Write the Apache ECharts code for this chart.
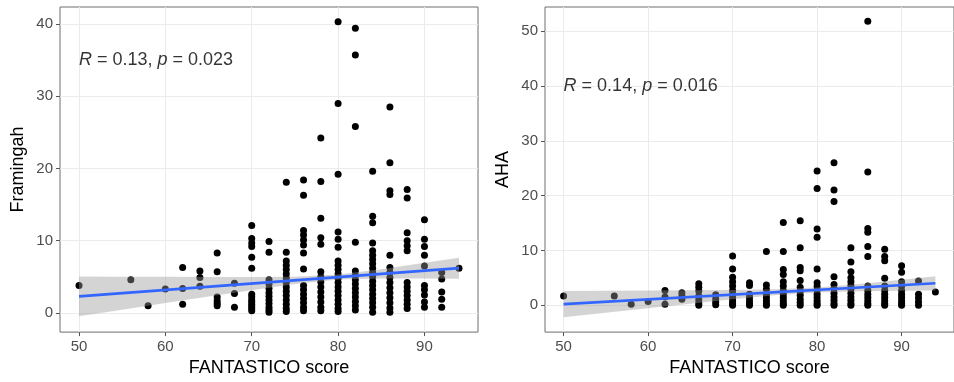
<!DOCTYPE html>
<html>
<head>
<meta charset="utf-8">
<script src="https://cdn.jsdelivr.net/npm/echarts@6/dist/echarts.min.js"></script>
<style>
  html, body { margin: 0; padding: 0; background: #fff; }
  #chart { width: 954px; height: 382px; }
</style>
</head>
<body>
<div id="chart"></div>
<script>
// FANTASTICO score columns, shared by both panels
const scoreCols = [50, 56, 58, 60, 62, 64, 66, 68, 70, 72, 74, 76, 78, 80, 82, 84, 86, 88, 90, 92, 94]

// Framingham risk per score column
const framVals = [
  [3.8],
  [4.6],
  [1.0],
  [3.3],
  [6.3, 3.4, 1.2],
  [5.8, 4.9, 3.7],
  [8.3, 5.7, 2.2, 1.7, 1.3, 1.0],
  [4.1, 2.7, 0.8],
  [12.1, 10.3, 9.7, 9.2, 7.7, 6.2, 2.6, 2.2, 1.8, 1.5, 1.2, 0.9, 0.6, 0.3],
  [9.9, 8.4, 4.6, 4.0, 3.4, 2.8, 2.3, 1.8, 1.3, 0.8, 0.4, 0.1],
  [18.1, 8.4, 7.2, 6.6, 6.0, 5.4, 4.8, 4.2, 3.6, 3.0, 2.4, 1.8, 1.2, 0.6, 0.2],
  [18.4, 16.3, 11.4, 10.8, 10.1, 9.4, 8.3, 6.1, 3.8, 3.2, 2.6, 2.0, 1.4, 0.8, 0.3],
  [24.2, 18.2, 13.1, 10.4, 9.5, 5.7, 5.0, 4.3, 3.6, 2.9, 2.2, 1.5, 0.8, 0.3],
  [40.3, 29.0, 19.2, 11.2, 10.2, 9.1, 7.2, 6.6, 6.0, 5.4, 4.8, 4.2, 3.6, 3.0, 2.4, 1.8, 1.2, 0.6, 0.2],
  [39.4, 35.7, 25.8, 9.8, 5.8, 5.2, 4.6, 4.0, 3.4, 2.8, 2.2, 1.6, 1.0, 0.4],
  [19.6, 13.4, 12.5, 9.7, 8.6, 8.0, 7.4, 6.8, 6.2, 5.6, 5.0, 4.4, 3.8, 3.2, 2.6, 2.0, 1.4, 0.8, 0.1],
  [28.5, 20.8, 16.9, 16.4, 8.0, 6.3, 5.6, 4.9, 4.2, 3.5, 2.8, 2.1, 1.4, 0.7, 0.1],
  [17.1, 15.9, 11.1, 10.0, 9.3, 8.6, 4.2, 3.6, 3.0, 2.4, 1.8, 1.2, 0.6],
  [12.9, 10.2, 9.2, 8.0, 6.5, 3.8, 3.2, 2.5, 1.5, 0.8],
  [5.6, 4.7, 2.9, 1.9, 0.8],
  [6.2]
]

// AHA risk per score column
const ahaVals = [
  [1.7],
  [1.7],
  [0.2],
  [0.7],
  [2.7, 1.5, 0.2],
  [2.3, 1.7, 1.1],
  [3.9, 3.3, 2.6, 1.7, 1.0, 0.4, 0.0],
  [1.9, 1.2, 0.6, 0.1],
  [9.0, 6.6, 5.1, 4.3, 3.5, 2.7, 2.0, 1.4, 0.8, 0.3, 0.0],
  [4.1, 3.6, 2.0, 1.4, 0.8, 0.3, 0.0],
  [9.8, 3.7, 2.9, 2.0, 1.4, 0.8, 0.3, 0.0],
  [15.1, 9.8, 6.5, 5.6, 4.3, 3.5, 2.7, 2.0, 1.4, 0.8, 0.3, 0.0],
  [15.4, 10.5, 6.9, 6.3, 4.5, 3.3, 2.5, 1.8, 1.1, 0.5, 0.0],
  [24.5, 21.3, 13.9, 12.4, 6.6, 4.1, 3.4, 2.7, 2.0, 1.4, 0.8, 0.3, 0.0],
  [26.0, 21.0, 18.9, 5.2, 3.8, 3.0, 2.2, 1.5, 0.9, 0.3, 0.0],
  [10.5, 7.9, 6.1, 5.0, 4.3, 3.6, 2.9, 2.2, 1.5, 0.9, 0.3, 0.0],
  [51.8, 24.3, 14.0, 13.3, 10.7, 8.9, 3.5, 2.7, 2.0, 1.4, 0.8, 0.3, 0.0],
  [10.2, 8.9, 8.1, 4.9, 3.5, 2.7, 2.0, 1.4, 0.8, 0.3, 0.0],
  [7.2, 6.0, 4.3, 3.5, 2.7, 2.0, 1.4, 0.8, 0.3, 0.0],
  [4.4, 2.0, 1.3, 0.6, 0.0],
  [2.4]
]

// linear fit and its 95% band
const fitX = [50, 94]
const framFit = [2.3, 6.2]
const ahaFit = [0.2, 4.0]
const bandX = [50, 55, 60, 65, 70, 75, 80, 85, 90, 94]
const framLower = [-0.45, 0.46, 1.37, 2.27, 3.16, 4.02, 4.62, 4.76, 4.76, 4.75]
const framUpper = [5.05, 5.02, 5.01, 4.99, 4.98, 5.02, 5.31, 6.06, 6.94, 7.65]
const ahaLower = [-2.2, -1.37, -0.55, 0.28, 1.07, 1.81, 2.34, 2.56, 2.66, 2.7]
const ahaUpper = [2.6, 2.63, 2.67, 2.72, 2.79, 2.91, 3.24, 3.88, 4.66, 5.3]

const xTicks = [50, 60, 70, 80, 90]
const framTicks = [0, 10, 20, 30, 40]
const ahaTicks = [0, 10, 20, 30, 40, 50]

const FONT = 'Arial, "Liberation Sans", sans-serif'

function toPoints(cols, vals) {
  const out = []
  cols.forEach((x, i) => vals[i].forEach(v => out.push([x, v])))
  return out
}

function makeAxis(gridIndex, min, max, ticks, name, isY) {
  return {
    type: "value",
    gridIndex,
    min,
    max,
    splitNumber: 10,
    minInterval: 5,
    maxInterval: 5,
    axisLine: { show: false, onZero: false },
    axisTick: { show: true, customValues: ticks, length: 4, lineStyle: { color: "#555" } },
    axisLabel: { customValues: ticks, color: "#4d4d4d", fontSize: 15, fontFamily: FONT, margin: 7 },
    splitLine: { show: true, lineStyle: { color: "#ebebeb", width: 1 } },
    name,
    nameLocation: "middle",
    nameGap: isY ? 33 : 25,
    nameTextStyle: { color: "#000", fontSize: 18, fontFamily: FONT },
  }
}

function bandSeries(idx, lower, upper) {
  return {
    type: "custom",
    xAxisIndex: idx,
    yAxisIndex: idx,
    z: 3,
    silent: true,
    data: bandX.map((x, i) => [x, lower[i], upper[i]]),
    encode: { x: 0, y: [1, 2] },
    renderItem: (params, api) => {
      if (params.dataIndex !== 0) return
      const pts = []
      for (let i = 0; i < bandX.length; i++) pts.push(api.coord([bandX[i], upper[i]]))
      for (let i = bandX.length - 1; i >= 0; i--) pts.push(api.coord([bandX[i], lower[i]]))
      return { type: "polygon", shape: { points: pts }, style: { fill: "rgba(153,153,153,0.42)" } }
    },
  }
}

function panelSeries(idx, vals, fit, lower, upper, labelY, label) {
  return [
    {
      type: "scatter",
      xAxisIndex: idx,
      yAxisIndex: idx,
      z: 2,
      symbolSize: 7,
      itemStyle: { color: "#000", opacity: 1 },
      data: toPoints(scoreCols, vals),
    },
    bandSeries(idx, lower, upper),
    {
      type: "line",
      xAxisIndex: idx,
      yAxisIndex: idx,
      z: 4,
      showSymbol: false,
      lineStyle: { color: "#3366FF", width: 2.6 },
      data: fitX.map((x, i) => [x, fit[i]]),
    },
    {
      type: "scatter",
      xAxisIndex: idx,
      yAxisIndex: idx,
      z: 5,
      symbolSize: 0,
      data: [[50, labelY]],
      label: {
        show: true,
        position: [0, 0],
        align: "left",
        verticalAlign: "middle",
        formatter: label,
        color: "#000",
        fontSize: 18,
        fontFamily: FONT,
        rich: { i: { fontStyle: "italic", fontSize: 18, fontFamily: FONT, color: "#000" } },
      },
    },
  ]
}

const chart = echarts.init(document.getElementById("chart"))

chart.setOption({
  animation: false,
  backgroundColor: "#fff",
  grid: [
    { left: 60, top: 7, width: 418, height: 326, show: true, borderColor: "#6e6e6e", borderWidth: 1, backgroundColor: "transparent" },
    { left: 545, top: 7, width: 418, height: 326, show: true, borderColor: "#6e6e6e", borderWidth: 1, backgroundColor: "transparent" },
  ],
  xAxis: [
    makeAxis(0, 47.8, 96.2, xTicks, "FANTASTICO score", false),
    makeAxis(1, 47.8, 96.2, xTicks, "FANTASTICO score", false),
  ],
  yAxis: [
    makeAxis(0, -2.65, 42.35, framTicks, "Framingah", true),
    makeAxis(1, -4.9, 54.4, ahaTicks, "AHA", true),
  ],
  series: [
    ...panelSeries(0, framVals, framFit, framLower, framUpper, 35, "{i|R} = 0.13, {i|p} = 0.023"),
    ...panelSeries(1, ahaVals, ahaFit, ahaLower, ahaUpper, 40, "{i|R} = 0.14, {i|p} = 0.016"),
  ],
})
</script>
</body>
</html>
